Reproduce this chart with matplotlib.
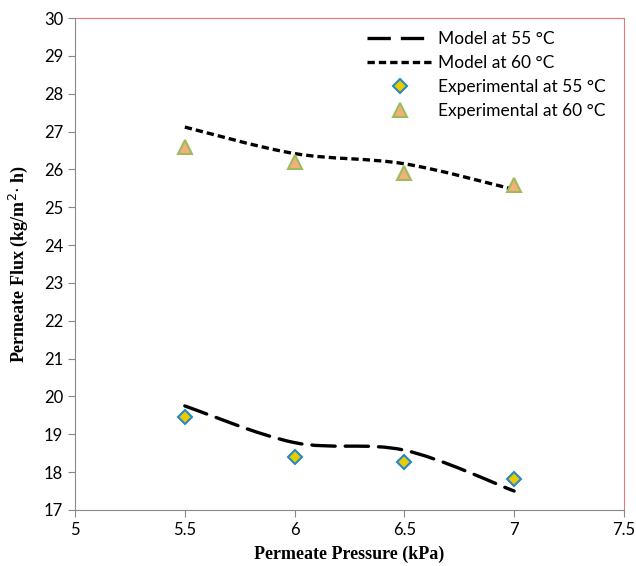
import numpy as np
import matplotlib.pyplot as plt
from matplotlib.path import Path
from matplotlib.patches import PathPatch
from matplotlib.lines import Line2D

pressure = [5.5, 6.0, 6.5, 7.0]
model_55 = [19.75, 18.78, 18.58, 17.5]
model_60 = [27.12, 26.42, 26.15, 25.47]
exp_55 = [19.47, 18.4, 18.27, 17.82]
exp_60 = [26.6, 26.2, 25.9, 25.6]

plt.rcParams['font.family'] = ['Lato', 'DejaVu Sans']


def smooth_path(xs, ys):
    # catmull-rom style bezier through the points (like Excel's smoothed line)
    pts = np.column_stack([xs, ys])
    verts = [pts[0]]
    codes = [Path.MOVETO]
    n = len(pts)
    for i in range(n - 1):
        p0 = pts[max(i - 1, 0)]
        p1 = pts[i]
        p2 = pts[i + 1]
        p3 = pts[min(i + 2, n - 1)]
        c1 = p1 + (p2 - p0) / 6.0
        c2 = p2 - (p3 - p1) / 6.0
        verts += [c1, c2, p2]
        codes += [Path.CURVE4] * 3
    return Path(verts, codes)


fig = plt.figure(figsize=(6.36, 5.66), dpi=100)
ax = fig.add_axes([0.118, 0.099, 0.863, 0.869])

dash55 = (0, (7, 3))
dash60 = (0, (2.2, 1.2))
lw = 2.4

ax.add_patch(PathPatch(smooth_path(pressure, model_55), fill=False, lw=lw,
                       ls=dash55, color='black', capstyle='round'))
ax.add_patch(PathPatch(smooth_path(pressure, model_60), fill=False, lw=lw,
                       ls=dash60, color='black', capstyle='butt'))

ax.plot(pressure, exp_55, ls='none', marker='D', ms=7, mfc='#e6cc00',
        mec='#2b86c4', mew=1.5)
ax.plot(pressure, exp_60, ls='none', marker='^', ms=10, mfc='#f4b07c',
        mec='#9cbc5c', mew=1.5)

ax.set_xlim(5, 7.5)
ax.set_ylim(17, 30)
ax.set_xticks([5, 5.5, 6, 6.5, 7, 7.5])
ax.set_xticklabels(['5', '5.5', '6', '6.5', '7', '7.5'])
ax.set_yticks(range(17, 31))
ax.tick_params(direction='out', length=5, color='#888888', labelsize=12)
ax.tick_params(axis='x', pad=4)

for s in ['left', 'bottom']:
    ax.spines[s].set_color('#888888')
for s in ['top', 'right']:
    ax.spines[s].set_color('#e87878')

ax.set_xlabel('Permeate Pressure (kPa)', family='Liberation Serif',
              fontweight='bold', fontsize=13, labelpad=5)
ax.set_ylabel('Permeate Flux (kg/m$^{2}$$\\cdot$ h)', family='Liberation Serif',
              fontweight='bold', fontsize=13, labelpad=10)

handles = [
    Line2D([], [], color='black', lw=lw, ls=dash55),
    Line2D([], [], color='black', lw=lw, ls=dash60),
    Line2D([], [], ls='none', marker='D', ms=7, mfc='#e6cc00', mec='#2b86c4', mew=1.5),
    Line2D([], [], ls='none', marker='^', ms=10, mfc='#f4b07c', mec='#9cbc5c', mew=1.5),
]
labels = ['Model at 55 °C', 'Model at 60 °C', 'Experimental at 55 °C',
          'Experimental at 60 °C']
ax.legend(handles, labels, loc='upper right', bbox_to_anchor=(0.995, 1.005),
          frameon=False, fontsize=12.5, handlelength=3.8, labelspacing=0.45,
          handletextpad=0.3)

fig.savefig('out.png', dpi=100)
